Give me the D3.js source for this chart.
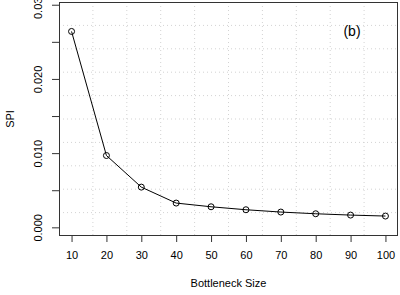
<!DOCTYPE html>
<html>
<head>
<meta charset="utf-8">
<script src="https://cdn.jsdelivr.net/npm/d3@7"></script>
<style>
  body { margin: 0; background: #fff; }
  text { font-family: "Liberation Sans", Arial, sans-serif; fill: #000; }
</style>
</head>
<body>
<div id="chart"></div>
<script>
var width = 400,
    height = 295
var margin = {left: 59, right: 2, top: 2, bottom: 59}

// data
var sizes = [10, 20, 30, 40, 50, 60, 70, 80, 90, 100]
var spi = [0.0264, 0.00968, 0.00542, 0.00327, 0.00277, 0.00237, 0.00206, 0.00183, 0.00165, 0.00152]
var yTicks = [0, 0.005, 0.010, 0.015, 0.020, 0.025, 0.030]
var yLabels = ["0.000", "", "0.010", "", "0.020", "", "0.030"]

var svg = d3.select("#chart")
  .append("svg")
    .attr("width", width)
    .attr("height", height)

var x0 = d3.min(sizes), x1 = d3.max(sizes), xr = x1 - x0
var y0 = 0, y1 = 0.0292, yr = y1 - y0
var x = d3.scaleLinear()
  .domain([x0 - 0.04 * xr, x1 + 0.04 * xr])
  .range([margin.left, width - margin.right])
var y = d3.scaleLinear()
  .domain([y0 - 0.04 * yr, y1 + 0.04 * yr])
  .range([height - margin.bottom, margin.top])

var pw = width - margin.left - margin.right,
    ph = height - margin.top - margin.bottom

// grid(10, 10): evenly spaced dotted lines
var g = svg.append("g")
d3.range(1, 10).forEach(function(i) {
  g.append("line")
    .attr("x1", margin.left + pw * i / 10).attr("x2", margin.left + pw * i / 10)
    .attr("y1", margin.top).attr("y2", margin.top + ph)
  g.append("line")
    .attr("y1", margin.top + ph * i / 10).attr("y2", margin.top + ph * i / 10)
    .attr("x1", margin.left).attr("x2", margin.left + pw)
})
g.selectAll("line")
  .attr("stroke", "#d3d3d3")
  .attr("stroke-width", 1)
  .attr("stroke-dasharray", "1,3")

// series
svg.append("path")
  .datum(sizes)
  .attr("fill", "none")
  .attr("stroke", "#000")
  .attr("stroke-width", 1)
  .attr("d", d3.line()
    .x(function(d) { return x(d) })
    .y(function(d, i) { return y(spi[i]) }))

svg.selectAll(".pt")
  .data(sizes)
  .enter()
  .append("circle")
  .attr("cx", function(d) { return x(d) })
  .attr("cy", function(d, i) { return y(spi[i]) })
  .attr("r", 3)
  .attr("fill", "none")
  .attr("stroke", "#000")
  .attr("stroke-width", 1)

// box
svg.append("rect")
  .attr("x", margin.left + 0.5)
  .attr("y", margin.top + 0.5)
  .attr("width", pw - 1)
  .attr("height", ph - 1)
  .attr("fill", "none")
  .attr("stroke", "#333")
  .attr("stroke-width", 1)

// axes
var xAxis = d3.axisBottom(x).tickValues(sizes).tickSize(6).tickPadding(9)
svg.append("g")
  .attr("transform", "translate(0," + (height - margin.bottom) + ")")
  .call(xAxis)
  .call(function(a) { a.select(".domain").remove() })
  .selectAll("text").style("font-size", "11px")

var yAxis = d3.axisLeft(y).tickValues(yTicks).tickSize(7)
  .tickFormat(function(d, i) { return yLabels[i] })
var ya = svg.append("g")
  .attr("transform", "translate(" + margin.left + ",0)")
  .call(yAxis)
ya.select(".domain").remove()
ya.selectAll("text")
  .style("font-size", "11px")
  .attr("x", null).attr("dy", null).attr("y", 0)
  .attr("text-anchor", "middle")
  .attr("transform", "translate(-17,0) rotate(-90)")
svg.selectAll(".tick line").attr("stroke", "#333")

// labels
svg.append("text")
  .attr("x", margin.left + pw / 2)
  .attr("y", 287)
  .attr("text-anchor", "middle")
  .style("font-size", "11px")
  .text("Bottleneck Size")

svg.append("text")
  .attr("transform", "translate(14," + (margin.top + ph / 2) + ") rotate(-90)")
  .attr("text-anchor", "middle")
  .style("font-size", "11px")
  .text("SPI")

svg.append("text")
  .attr("x", 352)
  .attr("y", 36)
  .attr("text-anchor", "middle")
  .style("font-size", "14px")
  .text("(b)")
</script>
</body>
</html>
